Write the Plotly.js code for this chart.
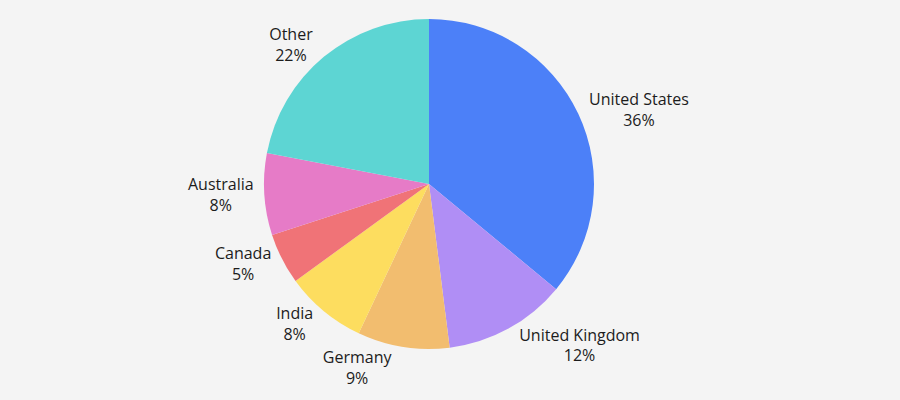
<!DOCTYPE html>
<html><head><meta charset="utf-8">
<script src="https://cdn.plot.ly/plotly-3.0.1.min.js"></script>
<style>html,body{margin:0;padding:0;background:#f4f4f4;}</style>
</head><body>
<div id="chart" style="width:900px;height:400px;"></div>
<script>
const labels = ["United States","United Kingdom","Germany","India","Canada","Australia","Other"];
const values = [36,12,9,8,5,8,22];
const colors = ["#4c80f8","#b08ef5","#f2bd6f","#fddd5f","#f07377","#e67bc7","#5dd5d3"];

Plotly.newPlot("chart",[{
  type:"pie",
  labels:labels,
  values:values,
  sort:false,
  direction:"clockwise",
  rotation:0,
  marker:{colors:colors,line:{width:0}},
  textposition:"outside",
  texttemplate:"%{label}<br>%{percent:.0%}",
  textfont:{family:"Open Sans, sans-serif",size:16,color:"#1c1c1c"},
  hoverinfo:"label+percent",
  automargin:false
}],{
  width:900,height:400,
  paper_bgcolor:"#f4f4f4",
  plot_bgcolor:"#f4f4f4",
  showlegend:false,
  margin:{l:0,r:42,t:19,b:51}
},{displayModeBar:false});
</script>
</body></html>
